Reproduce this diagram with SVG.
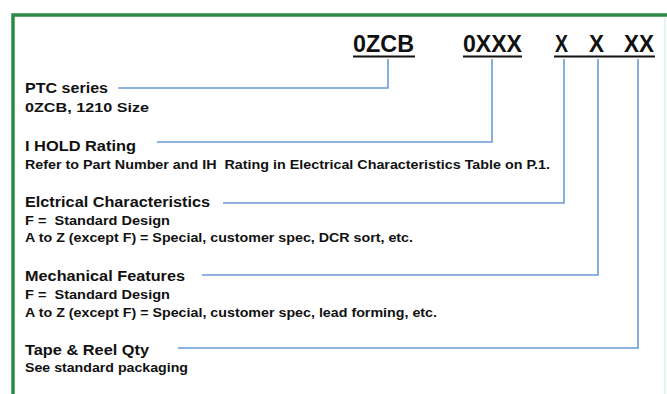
<svg xmlns="http://www.w3.org/2000/svg" width="667" height="394" viewBox="0 0 667 394">
<style>
text{font-family:"Liberation Sans",Arial,sans-serif;font-weight:bold;fill:#111;white-space:pre}
.h{font-size:14.5px}
.d{font-size:13px}
.pn{font-size:23px;fill:#111}
.ul{stroke:#111;stroke-width:2.2;fill:none}
.c{stroke:#6a9bd6;stroke-width:1.6;fill:none}
</style>
<rect x="0" y="0" width="667" height="394" fill="#ffffff"/>
<rect x="13" y="15" width="720" height="420" fill="none" stroke="#2b8a45" stroke-width="3.5"/>
<line x1="665" y1="18" x2="665" y2="394" stroke="#d8f1f5" stroke-width="1.5"/>
<g id="partnumber">
<text class="pn" x="353" y="52" textLength="61" lengthAdjust="spacingAndGlyphs">0ZCB</text>
<text class="pn" x="463" y="52" textLength="59" lengthAdjust="spacingAndGlyphs">0XXX</text>
<text class="pn" x="555" y="52" textLength="13" lengthAdjust="spacingAndGlyphs">X</text>
<text class="pn" x="589" y="52" textLength="15" lengthAdjust="spacingAndGlyphs">X</text>
<text class="pn" x="624" y="52" textLength="30" lengthAdjust="spacingAndGlyphs">XX</text>
<line class="ul" x1="353" y1="56.5" x2="415" y2="56.5"/>
<line class="ul" x1="463" y1="56.5" x2="522" y2="56.5"/>
<line class="ul" x1="554" y1="56.5" x2="655" y2="56.5"/>
</g>
<g id="connectors">
<polyline class="c" points="118,88 388,88 388,59"/>
<polyline class="c" points="157,142 492,142 492,59"/>
<polyline class="c" points="223,203 564,203 564,59"/>
<polyline class="c" points="202,275 598,275 598,59"/>
<polyline class="c" points="178,348 638,348 638,59"/>
</g>
<g id="ptc">
<text class="h" x="25" y="93" textLength="83" lengthAdjust="spacingAndGlyphs">PTC series</text>
<text class="d" x="25" y="112" textLength="124" lengthAdjust="spacingAndGlyphs">0ZCB, 1210 Size</text>
</g>
<g id="ihold">
<text class="h" x="25" y="151" textLength="111" lengthAdjust="spacingAndGlyphs">I HOLD Rating</text>
<text class="d" x="25" y="169" textLength="525" lengthAdjust="spacingAndGlyphs">Refer to Part Number and IH  Rating in Electrical Characteristics Table on P.1.</text>
</g>
<g id="electrical">
<text class="h" x="25" y="207" textLength="185" lengthAdjust="spacingAndGlyphs">Elctrical Characteristics</text>
<text class="d" x="25" y="225" textLength="145" lengthAdjust="spacingAndGlyphs">F =  Standard Design</text>
<text class="d" x="25" y="242" textLength="388" lengthAdjust="spacingAndGlyphs">A to Z (except F) = Special, customer spec, DCR sort, etc.</text>
</g>
<g id="mechanical">
<text class="h" x="25" y="281" textLength="160" lengthAdjust="spacingAndGlyphs">Mechanical Features</text>
<text class="d" x="25" y="299" textLength="145" lengthAdjust="spacingAndGlyphs">F =  Standard Design</text>
<text class="d" x="25" y="317" textLength="412" lengthAdjust="spacingAndGlyphs">A to Z (except F) = Special, customer spec, lead forming, etc.</text>
</g>
<g id="tape">
<text class="h" x="25" y="355" textLength="124" lengthAdjust="spacingAndGlyphs">Tape &amp; Reel Qty</text>
<text class="d" x="25" y="372" textLength="163" lengthAdjust="spacingAndGlyphs">See standard packaging</text>
</g>
</svg>
